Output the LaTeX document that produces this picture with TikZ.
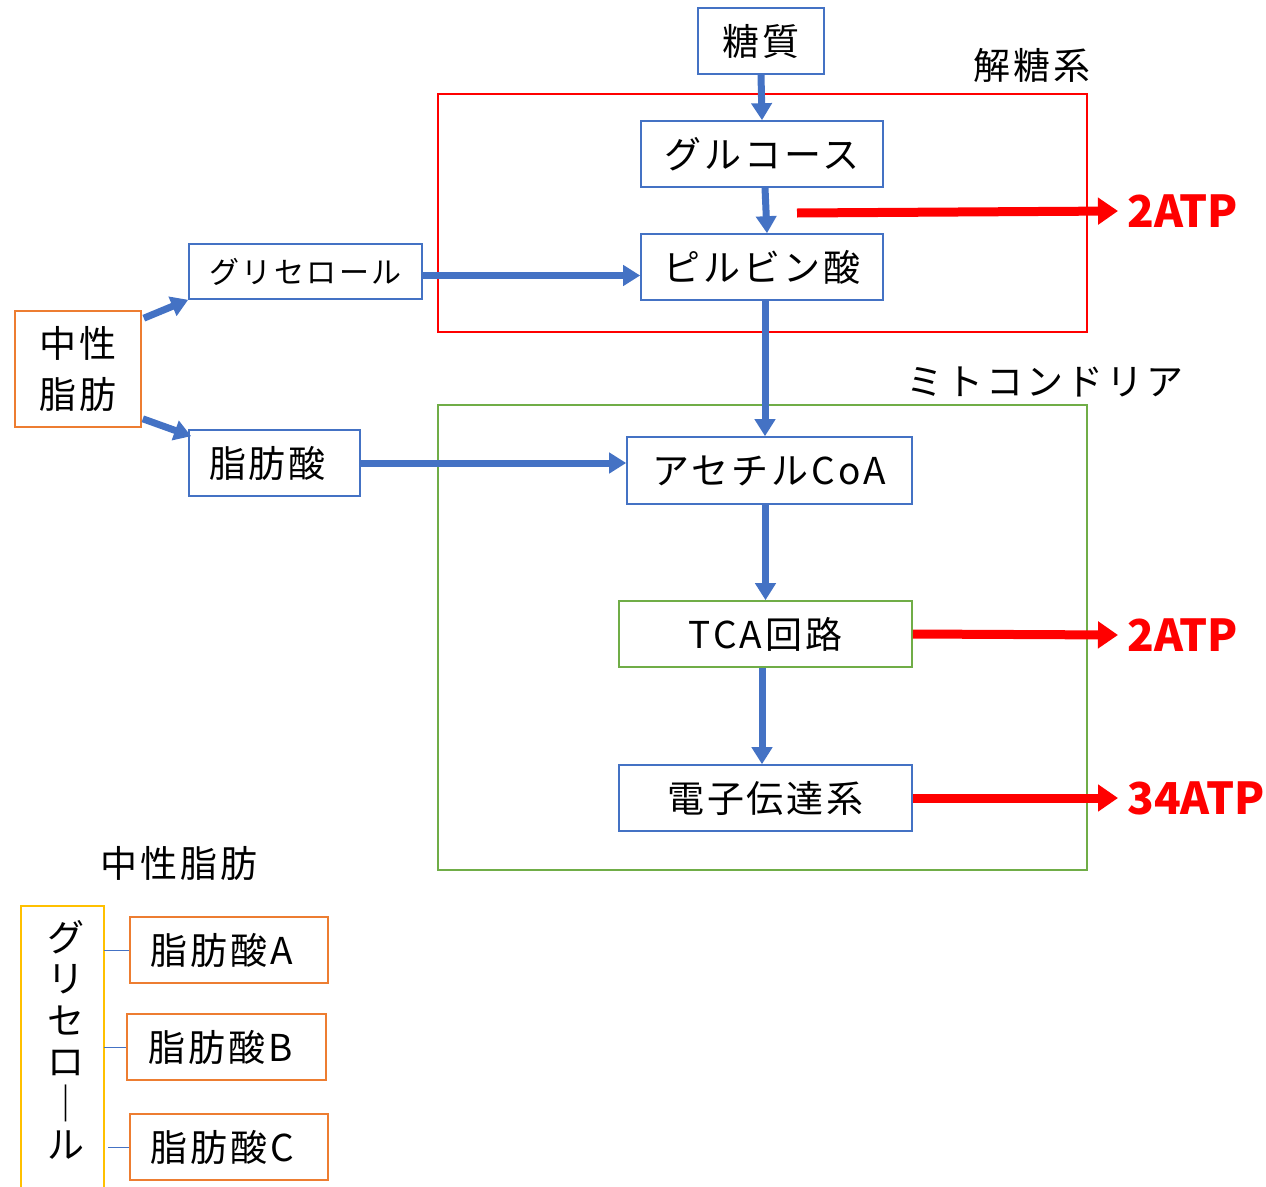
\documentclass[tikz,border=0pt]{standalone}
\usepackage{fontspec}
\setmainfont{Noto Sans CJK JP}[LetterSpace=8]
\newfontfamily\atpfont{Noto Sans CJK JP}
\usetikzlibrary{arrows.meta,calc}
\definecolor{mblue}{HTML}{4472C4}
\definecolor{mred}{HTML}{FF0000}
\definecolor{mgreen}{HTML}{70AD47}
\definecolor{morange}{HTML}{ED7D31}
\definecolor{mgold}{HTML}{FFC000}
\tikzset{
  box/.style={draw=mblue, line width=1.6pt, fill=white, inner sep=0pt, font=\fontsize{37}{40}\selectfont},
  obox/.style={box, draw=morange},
  gbox/.style={box, draw=mgreen},
  barrow/.style={draw=mblue, line width=7pt, -{Triangle[length=17pt,width=20pt]}},
  rarrow/.style={draw=mred, line width=9pt, -{Triangle[length=20pt,width=26pt]}},
  atp/.style={text=mred, font=\atpfont\fontsize{44}{48}\selectfont\bfseries, anchor=west, inner sep=9pt},
  lbl/.style={font=\fontsize{37}{40}\selectfont, inner sep=0pt},
  thin/.style={draw=mblue, line width=1pt}
}
\begin{document}
\begin{tikzpicture}[x=1pt,y=-1pt]
\useasboundingbox (0,0) rectangle (1266,1186);
% frames
\draw[mred, line width=2pt] (438,94) rectangle (1087,332);
\draw[mgreen, line width=2pt] (438,405) rectangle (1087,870);
\node[lbl] (lglyc) at (1032,65) {解糖系};
\node[lbl] (lmito) at (1045,382) {ミトコンドリア};
% boxes
\node[box, minimum width=126pt, minimum height=66pt] (tou) at (761,41) {糖質};
\node[box, minimum width=242pt, minimum height=66pt] (glc) at (762,154) {グルコース};
\node[box, minimum width=242pt, minimum height=66pt] (pyr) at (762,267) {ピルビン酸};
\node[box, minimum width=233pt, minimum height=55pt, font=\fontsize{30}{32}\selectfont] (gly) at (305.5,271.5) {グリセロール};
\node[obox, minimum width=126pt, minimum height=116pt, align=center, font=\fontsize{37}{51}\selectfont] (fat) at (78,369) {中性\\脂肪};
\node[box, minimum width=171pt, minimum height=66pt] (fa) at (274.5,463) {脂肪酸\kern14pt};
\node[box, minimum width=285pt, minimum height=67pt] (acoa) at (769.5,470.5) {アセチルCoA};
\node[gbox, minimum width=293pt, minimum height=66pt] (tca) at (765.5,634) {TCA回路};
\node[box, minimum width=293pt, minimum height=66pt] (etc) at (765.5,798) {電子伝達系};
% blue arrows
\draw[barrow] (tou.south) -- (glc.north);
\draw[barrow] ([xshift=3pt]glc.south) -- ([xshift=5pt]pyr.north);
\draw[barrow] ([xshift=3pt]pyr.south) -- ([xshift=3pt]pyr.south |- acoa.north);
\draw[barrow] (tca.north |- acoa.south) -- (tca.north);
\draw[barrow] ([xshift=-3.5pt]tca.south) -- ([xshift=-3.5pt]etc.north);
\draw[barrow] ([yshift=-4pt]gly.east) -- ([yshift=-4pt]gly.east -| pyr.west);
\draw[barrow] (fa.east) -- (fa.east -| acoa.west);
\draw[barrow] ($(fat.north east)+(2,8)$) -- (gly.south west);
\draw[barrow] ($(fat.south east)+(1,-9)$) -- ($(fa.north west)+(3,7)$);
% red arrows and ATP
\node[atp] (atp1) at (1118,211) {2ATP};
\node[atp] (atp2) at (1118,635) {2ATP};
\node[atp] (atp3) at (1118,798) {34ATP};
\coordinate (r1s) at (797,213);
\draw[rarrow] (r1s) -- (atp1.west);
\draw[rarrow] (tca.east) -- (atp2.west);
\draw[rarrow] (etc.east) -- (atp3.west);
% legend
\node[lbl] (lfat) at (179,863) {中性脂肪};
\node[minimum width=83pt, minimum height=300pt, inner sep=0pt] (ygly) at (62.5,1056) {};
\draw[mgold, line width=2pt] (ygly.south west) |- (ygly.north east) -- (ygly.south east);
\node[align=center, font=\fontsize{37}{41.5}\selectfont, inner sep=0pt] (yglyt) at (66,1040) {グ\\リ\\セ\\ロ\\｜\\ル};
\node[obox, minimum width=198pt, minimum height=66pt] (faA) at (229,950) {脂肪酸A\kern14pt};
\node[obox, minimum width=199pt, minimum height=66pt] (faB) at (226.5,1047) {脂肪酸B\kern12pt};
\node[obox, minimum width=198pt, minimum height=66pt] (faC) at (229,1147) {脂肪酸C\kern14pt};
\draw[thin] (ygly.east |- faA.west) -- (faA.west);
\draw[thin] (ygly.east |- faB.west) -- (faB.west);
\draw[thin] ([xshift=4pt]ygly.east |- faC.west) -- (faC.west);
\end{tikzpicture}
\end{document}
